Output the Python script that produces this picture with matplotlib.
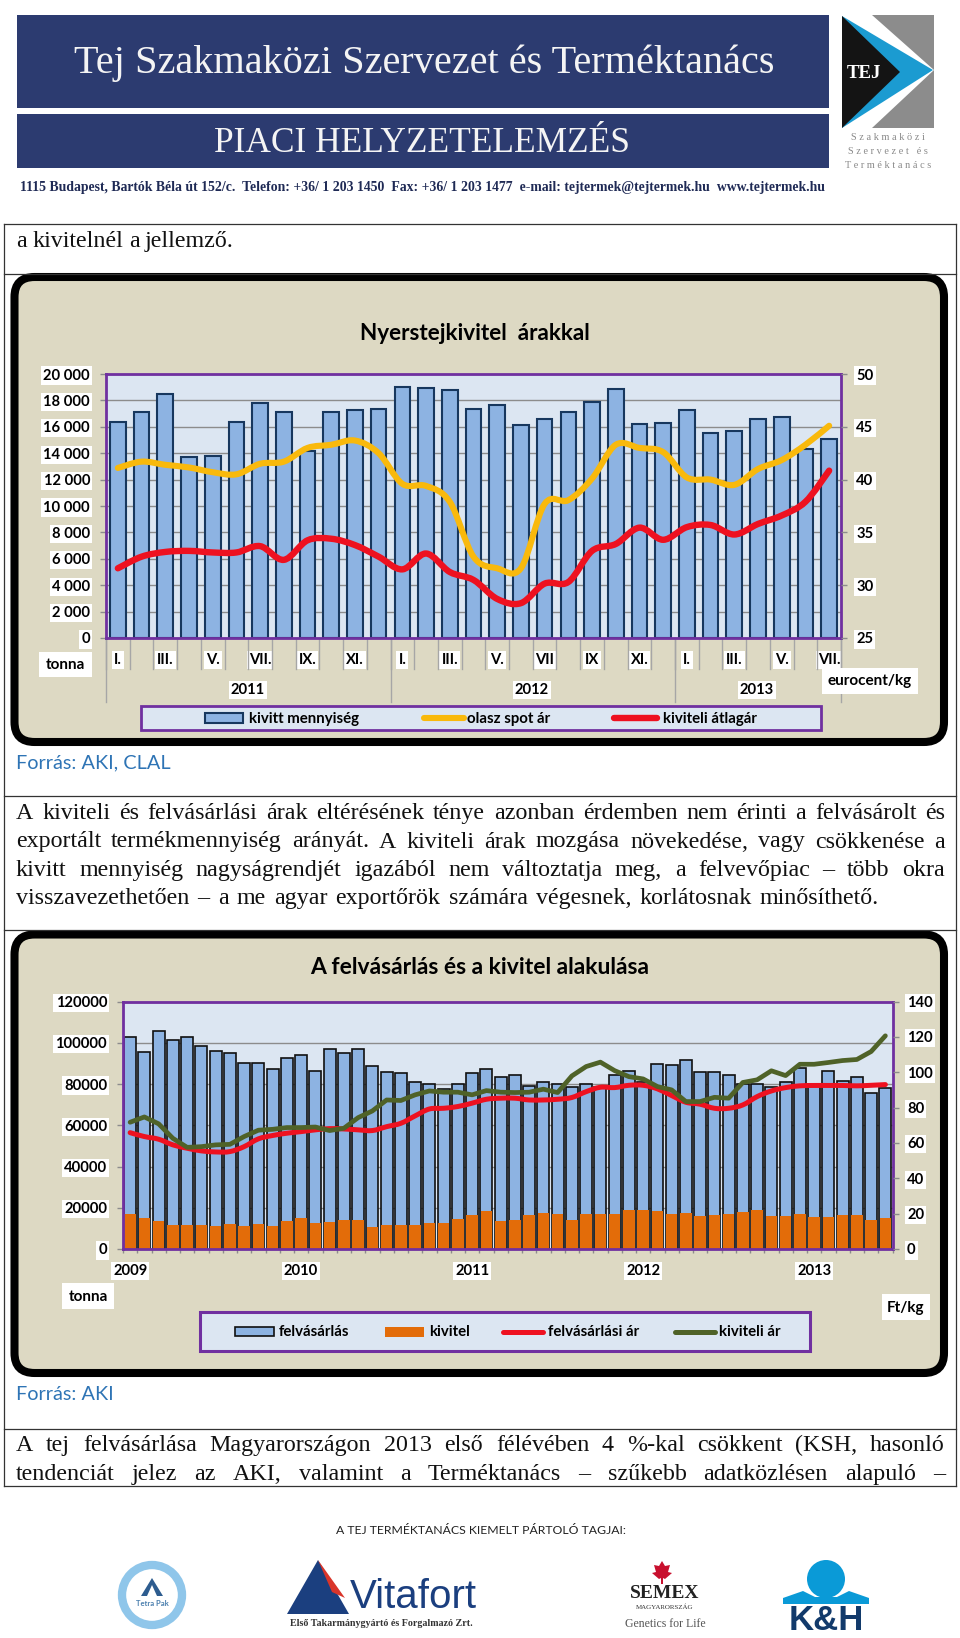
import matplotlib
matplotlib.use('Agg')
import matplotlib.pyplot as plt
import numpy as np
from matplotlib.patches import FancyBboxPatch, Rectangle, Polygon, Circle, PathPatch
from matplotlib.path import Path

W, H = 960, 1638

plt.rcParams['font.family'] = ['Lato', 'DejaVu Sans']
SERIF = ['Liberation Serif', 'DejaVu Serif']

# --- adatok: elso diagram ---
honapok = ['I.', '', 'III.', '', 'V.', '', 'VII.', '', 'IX.', '', 'XI.', '',
           'I.', '', 'III.', '', 'V.', '', 'VII', '', 'IX', '', 'XI.', '',
           'I.', '', 'III.', '', 'V.', '', 'VII.']
kivitt = [16400, 17100, 18500, 13700, 13800, 16350, 17800, 17100, 14200, 17100, 17250, 17350,
          19000, 18950, 18800, 17320, 17650, 16130, 16590, 17090, 17850, 18860, 16180, 16310,
          17270, 15550, 15680, 16590, 16710, 14290, 15050]
olasz = [41.1, 41.7, 41.4, 41.15, 40.7, 40.5, 41.5, 41.7, 43.0, 43.3, 43.7, 42.5,
         39.6, 39.4, 37.9, 32.7, 31.6, 31.6, 37.7, 38.05, 40.1, 43.3, 43.0, 42.6,
         40.2, 40.0, 39.5, 41.0, 41.85, 43.3, 45.1]
atlagar = [31.6, 32.7, 33.15, 33.25, 33.1, 33.1, 33.7, 32.4, 34.25, 34.4, 33.8, 32.7,
           31.5, 33.0, 31.25, 30.5, 28.7, 28.3, 30.15, 30.3, 33.25, 33.9, 35.45, 34.3,
           35.5, 35.7, 34.8, 35.8, 36.6, 37.9, 40.85]
evek1 = ['2011', '2012', '2013']
bal1 = [0, 2000, 4000, 6000, 8000, 10000, 12000, 14000, 16000, 18000, 20000]
bal1_cimke = ['0', '2 000', '4 000', '6 000', '8 000', '10 000', '12 000', '14 000', '16 000', '18 000', '20 000']
jobb1 = [25, 30, 35, 40, 45, 50]

# --- adatok: masodik diagram ---
felvasarlas = [103000, 95400, 105900, 101400, 103000, 98650, 96060, 94900, 90100, 90400, 87200, 92700,
               94100, 86400, 97200, 95250, 97200, 88500, 86000, 85100, 80900, 80200, 77500, 80050,
               85100, 87200, 83600, 84600, 79200, 80900, 80200, 78400, 80050, 78700, 84250, 86400,
               80900, 89600, 89100, 91850, 85700, 85700, 84600, 79900, 80200, 78750, 80900, 87650,
               79550, 86500, 81650, 83300, 75850, 77950]
kivitel = [17000, 14900, 13600, 11500, 11500, 11500, 11300, 12300, 11150, 12300, 11150, 13750,
           14900, 12800, 13100, 13900, 14200, 10700, 11650, 11650, 11800, 12600, 12600, 14400,
           16300, 18400, 13600, 13900, 16300, 17600, 17000, 14070, 17000, 17100, 17100, 18750,
           18750, 18600, 17100, 17600, 16000, 16500, 16800, 17800, 18750, 16000, 16000, 17100,
           15400, 15500, 16500, 16650, 14070, 14900]
felv_ar = [65.8, 63.6, 62.1, 58.9, 57.0, 55.5, 54.9, 55.1, 57.9, 62.3, 64.2, 65.5,
           66.4, 67.4, 68.1, 67.9, 67.4, 67.0, 69.2, 71.1, 75.3, 79.2, 79.6, 80.6,
           82.5, 84.7, 85.3, 85.3, 84.3, 84.3, 84.7, 85.7, 89.0, 91.5, 91.3, 92.6,
           92.6, 90.6, 86.8, 83.0, 81.9, 79.6, 79.6, 81.5, 86.2, 89.4, 91.3, 92.3,
           92.5, 92.5, 92.5, 92.3, 92.6, 93.0]
kiv_ar = [71.7, 74.7, 70.8, 62.6, 57.5, 57.9, 58.9, 59.2, 63.6, 67.2, 67.7, 68.7,
          68.7, 69.0, 67.0, 68.3, 74.3, 78.1, 84.3, 84.0, 87.2, 89.4, 88.7, 88.7,
          87.2, 89.6, 88.7, 88.5, 88.7, 90.4, 88.5, 97.9, 103.2, 105.7, 100.9, 97.5,
          96.2, 91.9, 90.0, 83.4, 83.4, 85.8, 85.3, 94.2, 95.7, 100.8, 98.1, 104.5,
          104.5, 105.5, 106.6, 107.2, 111.7, 120.6]
ev_cimke2 = ['2009', '2010', '2011', '2012', '2013']
bal2 = [0, 20000, 40000, 60000, 80000, 100000, 120000]
jobb2 = [0, 20, 40, 60, 80, 100, 120, 140]

# szinek
DRAPP = '#DDD9C3'
HATTER = '#DCE6F2'
LILA = '#7030A0'
KEK = '#8DB3E2'
SOTET = '#17375E'
NARANCS = '#E36C09'
PIROS = '#EE1120'
SARGA = '#F9B90C'
ZOLD = '#4F6228'
RACS = '#8C8C8C'
FEHER_BOX = dict(facecolor='white', edgecolor='none', pad=1.5)


def tengely(x0, y0, x1, y1):
    """Axes pixel koordinatakbol (y lefele no)."""
    return fig.add_axes([x0 / W, 1 - y1 / H, (x1 - x0) / W, (y1 - y0) / H])


def sima_vonal(ax, x, y, szin, lw):
    """Excel-szeru simitott vonal bezier gorbevel."""
    x = np.asarray(x, float)
    y = np.asarray(y, float)
    verts = [(x[0], y[0])]
    codes = [Path.MOVETO]
    for i in range(len(x) - 1):
        a = max(i - 1, 0)
        d = min(i + 2, len(x) - 1)
        verts.append((x[i] + (x[i + 1] - x[a]) / 6, y[i] + (y[i + 1] - y[a]) / 6))
        verts.append((x[i + 1] - (x[d] - x[i]) / 6, y[i + 1] - (y[d] - y[i]) / 6))
        verts.append((x[i + 1], y[i + 1]))
        codes += [Path.CURVE4] * 3
    ax.add_patch(PathPatch(Path(verts, codes), fill=False, edgecolor=szin, lw=lw,
                           capstyle='round', joinstyle='round', zorder=5))


def sorkizart(szoveg, x0, x1, y, meret, koz=None):
    """Sorkizart sor: szavankent helyezi el a szoveget (koz = rogzitett szokoz pixelben)."""
    szavak = szoveg.split(' ')
    rend = fig.canvas.get_renderer()
    elemek = [lap.text(0, y, s, family=SERIF, fontsize=meret, color='#111111', va='baseline') for s in szavak]
    sz = [e.get_window_extent(rend).width for e in elemek]
    if koz is None:
        koz = (x1 - x0 - sum(sz)) / (len(szavak) - 1)
    px = x0
    for e, w in zip(elemek, sz):
        e.set_x(px)
        px += w + koz


fig = plt.figure(figsize=(W / 100, H / 100), dpi=100, facecolor='white')

# alsó réteg: oldal, fejlec, keretek
lap = fig.add_axes([0, 0, 1, 1], zorder=0)
lap.set_xlim(0, W)
lap.set_ylim(H, 0)
lap.axis('off')

# felső réteg: feliratok, jelmagyarazatok
fedo = fig.add_axes([0, 0, 1, 1], zorder=10)
fedo.set_xlim(0, W)
fedo.set_ylim(H, 0)
fedo.axis('off')
fedo.patch.set_alpha(0)

# fejlec
FEJ = '#2C3B70'
lap.add_patch(Rectangle((17, 15), 812, 93, facecolor=FEJ, edgecolor='none'))
lap.add_patch(Rectangle((17, 114), 812, 54, facecolor=FEJ, edgecolor='none'))
lap.text(424, 63, 'Tej Szakmaközi Szervezet és Terméktanács', family=SERIF, color='#F4F4F4',
         fontsize=29, ha='center', va='center')
lap.text(422, 143, 'PIACI HELYZETELEMZÉS', family=SERIF, color='#F4F4F4',
         fontsize=25.5, ha='center', va='center')
lap.text(423, 188, '1115 Budapest, Bartók Béla út 152/c.  Telefon: +36/ 1 203 1450  Fax: +36/ 1 203 1477  '
         'e-mail: tejtermek@tejtermek.hu  www.tejtermek.hu', family=SERIF, color='#1F2A55',
         fontsize=9.95, fontweight='bold', ha='center', va='center')

# TEJ logo
lap.add_patch(Rectangle((872, 15), 62, 113, facecolor='#8C8C8C', edgecolor='none'))
lap.add_patch(Polygon([(842, 15), (872, 15), (934, 70), (872, 128), (842, 128)], facecolor='white', edgecolor='none'))
lap.add_patch(Polygon([(842, 16), (933, 70), (842, 128)], facecolor='#1B9BD1', edgecolor='none'))
lap.add_patch(Polygon([(842, 16), (900, 72), (842, 128)], facecolor='#141414', edgecolor='none'))
lap.text(864, 73, 'TEJ', family=SERIF, color='white', fontsize=13.5, fontweight='bold', ha='center', va='center')
for szo, yy in zip(['S z a k m a k ö z i', 'S z e r v e z e t   é s', 'T e r m é k t a n á c s'], [137, 151, 165]):
    lap.text(888, yy, szo, family=SERIF, color='#8A8A8A', fontsize=7.4, ha='center', va='center')

# táblázat vonalai
for yy in [223.5, 274, 796, 930, 1429, 1486]:
    lap.plot([4, 956], [yy, yy], color='#333333', lw=0.9)
for xx in [4, 956]:
    lap.plot([xx, xx], [223.5, 1486], color='#333333', lw=0.9)

# szovegek
MERET = 17.3
sorkizart('a kivitelnél a jellemző.', 16, 300, 247, MERET, koz=5.5)
sorkizart('A kiviteli és felvásárlási árak eltérésének ténye azonban érdemben nem érinti a felvásárolt és', 16, 945, 819, MERET)
sorkizart('exportált termékmennyiség arányát. A kiviteli árak mozgása növekedése, vagy csökkenése a', 16, 945, 847.5, MERET)
sorkizart('kivitt mennyiség nagyságrendjét igazából nem változtatja meg, a felvevőpiac – több okra', 16, 945, 876, MERET)
sorkizart('visszavezethetően – a me agyar exportőrök számára végesnek, korlátosnak minősíthető.', 16, 879, 904, MERET)
sorkizart('A tej felvásárlása Magyarországon 2013 első félévében 4 %-kal csökkent (KSH, hasonló', 16, 945, 1451, MERET)
sorkizart('tendenciát jelez az AKI, valamint a Terméktanács – szűkebb adatközlésen alapuló –', 16, 945, 1480, MERET)
lap.text(16, 763, 'Forrás: AKI, CLAL', color='#2E74B5', fontsize=14.3, va='center')
lap.text(16, 1395, 'Forrás: AKI', color='#2E74B5', fontsize=14.3, va='center')

# diagram keretek
for y0, y1 in [(277, 742), (934.5, 1373)]:
    lap.add_patch(FancyBboxPatch((14.5 + 18, y0 + 18), 944 - 14.5 - 36, y1 - y0 - 36,
                                 boxstyle='round,pad=18,rounding_size=20', facecolor=DRAPP,
                                 edgecolor='black', lw=5.8, mutation_aspect=1))

# --- elso diagram ---
ax1 = tengely(106, 374, 841, 638)
ax1.set_facecolor(HATTER)
x1 = np.arange(len(kivitt))
ax1.bar(x1, kivitt, width=0.66, color=KEK, edgecolor=SOTET, linewidth=1.5)
ax1.set_xlim(-0.5, len(kivitt) - 0.5)
ax1.set_ylim(0, 20000)
ax1.set_yticks(bal1, bal1_cimke)
ax1.set_axisbelow(True)
ax1.grid(axis='y', color=RACS, lw=1)
ax1.set_xticks(x1, honapok)
ax1.tick_params(axis='x', length=0, pad=10.5, labelsize=10.6)
ax1.tick_params(axis='y', length=4, width=1, color=RACS, pad=7.5, labelsize=10.6)
for t in ax1.get_xticklabels() + ax1.get_yticklabels():
    t.set_fontweight('bold')
    t.set_bbox(FEHER_BOX)
for s in ax1.spines.values():
    s.set_color(LILA)
    s.set_linewidth(2)

jx1 = ax1.twinx()
jx1.set_ylim(25, 50)
jx1.set_yticks(jobb1)
jx1.tick_params(axis='y', length=4, width=1, color=RACS, pad=7, labelsize=10.6)
for t in jx1.get_yticklabels():
    t.set_fontweight('bold')
    t.set_bbox(FEHER_BOX)
for s in jx1.spines.values():
    s.set_visible(False)
sima_vonal(jx1, x1, olasz, SARGA, 4.4)
sima_vonal(jx1, x1, atlagar, PIROS, 4.6)

# kategoria elvalasztok (adat: also tengely alatti tartomany)
hatarok = np.arange(len(kivitt) + 1) - 0.5
evhatar = [-0.5, 11.5, 23.5, 30.5]
for h in hatarok:
    ax1.plot([h, h], [0, -2350], color='#A6A6A6', lw=1, clip_on=False, zorder=1)
for h in evhatar:
    ax1.plot([h, h], [0, -4850], color='#A6A6A6', lw=1, clip_on=False, zorder=1)

for ev, xp in zip(evek1, [248, 532, 757]):
    fedo.text(xp, 690, ev, fontsize=10.6, fontweight='bold', ha='center', va='center', bbox=FEHER_BOX)
fedo.add_patch(Rectangle((39, 652), 53, 25, facecolor='white', edgecolor='none'))
fedo.text(65.5, 665, 'tonna', fontsize=11, fontweight='bold', ha='center', va='center')
fedo.add_patch(Rectangle((822, 668), 96, 26, facecolor='white', edgecolor='none'))
fedo.text(870, 681, 'eurocent/kg', fontsize=11, fontweight='bold', ha='center', va='center')
fedo.text(475, 334, 'Nyerstejkivitel  árakkal', fontsize=16.2, fontweight='bold', ha='center', va='center')

# jelmagyarazat 1
fedo.add_patch(Rectangle((141, 706), 680, 23.5, facecolor=HATTER, edgecolor=LILA, lw=2))
fedo.add_patch(Rectangle((205, 712.5), 38, 10.5, facecolor=KEK, edgecolor=SOTET, lw=1.5))
fedo.plot([424, 464], [718, 718], color=SARGA, lw=4.4, solid_capstyle='round')
fedo.plot([614, 657], [718, 718], color=PIROS, lw=4.6, solid_capstyle='round')
for szo, xp in zip(['kivitt mennyiség', 'olasz spot ár', 'kiviteli átlagár'], [249, 467, 663]):
    fedo.text(xp, 718.5, szo, fontsize=10.8, fontweight='bold', ha='left', va='center')

# --- masodik diagram ---
ax2 = tengely(123, 1001.5, 892.5, 1249)
ax2.set_facecolor(HATTER)
x2 = np.arange(len(felvasarlas))
ax2.bar(x2, felvasarlas, width=0.84, color=KEK, edgecolor='#101010', linewidth=1.2)
ax2.bar(x2, kivitel, width=0.8, color=NARANCS, edgecolor='none')
ax2.set_xlim(-0.5, len(felvasarlas) - 0.5)
ax2.set_ylim(0, 120000)
ax2.set_yticks(bal2)
ax2.set_axisbelow(True)
ax2.grid(axis='y', color=RACS, lw=1)
ax2.set_xticks(np.arange(0, len(felvasarlas), 12), ev_cimke2)
ax2.set_xticks(np.arange(len(felvasarlas) + 1) - 0.5, minor=True)
ax2.tick_params(axis='x', which='major', length=0, pad=11, labelsize=10.6)
ax2.tick_params(axis='x', which='minor', length=3, width=1, color=RACS)
ax2.tick_params(axis='y', length=4, width=1, color=RACS, pad=7.5, labelsize=10.6)
for t in ax2.get_xticklabels() + ax2.get_yticklabels():
    t.set_fontweight('bold')
    t.set_bbox(FEHER_BOX)
for s in ax2.spines.values():
    s.set_color(LILA)
    s.set_linewidth(2)

jx2 = ax2.twinx()
jx2.set_ylim(0, 140)
jx2.set_yticks(jobb2)
jx2.tick_params(axis='y', length=4, width=1, color=RACS, pad=6.5, labelsize=10.6)
for t in jx2.get_yticklabels():
    t.set_fontweight('bold')
    t.set_bbox(FEHER_BOX)
for s in jx2.spines.values():
    s.set_visible(False)
sima_vonal(jx2, x2, felv_ar, PIROS, 3.6)
jx2.plot(x2, kiv_ar, color=ZOLD, lw=3.4, solid_capstyle='round', solid_joinstyle='round', zorder=6)

fedo.add_patch(Rectangle((62, 1283), 52, 26, facecolor='white', edgecolor='none'))
fedo.text(88, 1297, 'tonna', fontsize=11, fontweight='bold', ha='center', va='center')
fedo.add_patch(Rectangle((882, 1294), 48, 26, facecolor='white', edgecolor='none'))
fedo.text(906, 1308, 'Ft/kg', fontsize=11, fontweight='bold', ha='center', va='center')
fedo.text(479.5, 968, 'A felvásárlás és a kivitel alakulása', fontsize=16.5, fontweight='bold', ha='center', va='center')

# jelmagyarazat 2
fedo.add_patch(Rectangle((200, 1312), 610, 39, facecolor=HATTER, edgecolor=LILA, lw=2.2))
fedo.add_patch(Rectangle((235, 1327), 39, 9, facecolor=KEK, edgecolor='#101010', lw=1.2))
fedo.add_patch(Rectangle((385, 1327), 39, 9.5, facecolor=NARANCS, edgecolor='none'))
fedo.plot([503, 543], [1331.5, 1331.5], color=PIROS, lw=3.6, solid_capstyle='round')
fedo.plot([675, 715], [1331.5, 1331.5], color=ZOLD, lw=3.6, solid_capstyle='round')
for szo, xp in zip(['felvásárlás', 'kivitel', 'felvásárlási ár', 'kiviteli ár'], [279, 429, 548, 719]):
    fedo.text(xp, 1332, szo, fontsize=10.8, fontweight='bold', ha='left', va='center')

# lablec
lap.text(481, 1530, 'A TEJ TERMÉKTANÁCS KIEMELT PÁRTOLÓ TAGJAI:', fontsize=8.8, color='#222222', ha='center', va='center')

# Tetra Pak
lap.add_patch(Circle((152, 1595), 30, facecolor='white', edgecolor='#8FC6EA', lw=6))
lap.add_patch(Polygon([(152, 1578), (163, 1596), (141, 1596)], facecolor='#2D5C8F', edgecolor='none'))
lap.add_patch(Polygon([(152, 1585), (157, 1596), (147, 1596)], facecolor='white', edgecolor='none'))
lap.text(152, 1604, 'Tetra Pak', fontsize=5.5, fontweight='bold', color='#4A7FAE', ha='center', va='center')

# Vitafort
lap.add_patch(Polygon([(287, 1614), (318, 1560), (349, 1614)], facecolor='#1B3F7F', edgecolor='none'))
lap.add_patch(Polygon([(318, 1560), (345, 1598), (332, 1592)], facecolor='#D9352A', edgecolor='none'))
lap.text(413, 1597, 'Vitafort', family=['Liberation Sans', 'DejaVu Sans'], fontsize=29, color='#1B3F7F', ha='center', va='center')
lap.text(381, 1624, 'Első Takarmánygyártó és Forgalmazó Zrt.', family=SERIF, fontsize=7.2, fontweight='bold',
         color='#333333', ha='center', va='center')

# Semex
lap.add_patch(Polygon([(662, 1561), (665, 1566), (670, 1565), (668, 1572), (672, 1573), (665, 1579), (663, 1578),
                       (663, 1584), (661, 1584), (661, 1578), (659, 1579), (652, 1573), (656, 1572), (654, 1565), (659, 1566)],
                      facecolor='#C8102E', edgecolor='none'))
lap.text(665, 1593, 'SEMEX', family=SERIF, fontsize=14, fontweight='bold', color='#222222', ha='center', va='center')
lap.text(665, 1607, 'MAGYARORSZÁG', family=SERIF, fontsize=5, color='#333333', ha='center', va='center')
lap.text(665, 1624, 'Genetics for Life', family=SERIF, fontsize=8.5, color='#555555', ha='center', va='center')

# K&H
lap.add_patch(Circle((826, 1579), 19, facecolor='#0A9AD7', edgecolor='none'))
lap.add_patch(Polygon([(783, 1604), (783, 1598), (803, 1591), (815, 1597), (837, 1597), (849, 1591), (869, 1598),
                       (869, 1604)], facecolor='#0A9AD7', edgecolor='none'))
lap.text(826, 1621, 'K&H', family=['Liberation Sans', 'DejaVu Sans'], fontsize=25, fontweight='bold', color='#123A6B', ha='center', va='center')

fig.savefig('out.png', dpi=100)
